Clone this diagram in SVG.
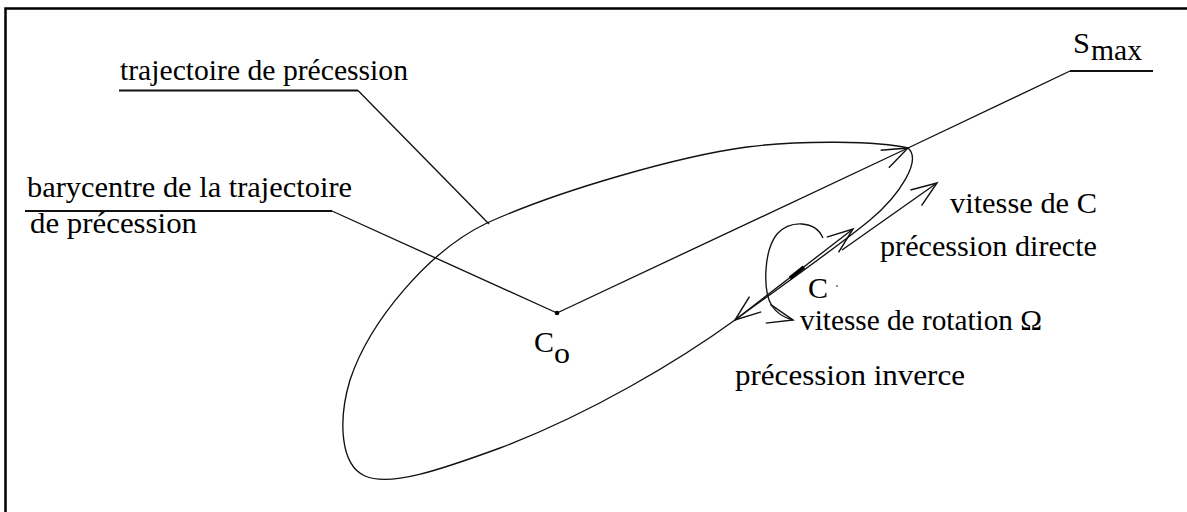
<svg xmlns="http://www.w3.org/2000/svg" width="1187" height="512" viewBox="0 0 1187 512">
<style>
  text { font-family: "Liberation Serif", "Times New Roman", serif; font-size: 29.5px; fill: #000; }
  .sub { font-size: 29px; }
  .ln { fill: none; stroke: #111; stroke-width: 1.35; }
  .ul { fill: none; stroke: #111; stroke-width: 1.9; }
  .arr { fill: none; stroke: #111; stroke-width: 1.35; }
</style>
<defs>
  <marker id="open" markerUnits="userSpaceOnUse" markerWidth="30" markerHeight="30" refX="0" refY="0" viewBox="-26 -13 28 26" orient="auto-start-reverse" overflow="visible">
    <path d="M-24,-9 L0,0 L-24,9" fill="none" stroke="#111" stroke-width="1.35"/>
  </marker>
</defs>
<rect width="1187" height="512" fill="#fff"/>
<path d="M5.5,512 V8.5 H1187" fill="none" stroke="#000" stroke-width="2.5"/>

<g id="trajectory">
  <path class="ln" d="M908,148 C880,141 800,140 747,147 C680,156 560,190 487,223 C430,250 370,320 350,380 C338,420 340,465 365,476 C390,487 440,470 500,448 C590,414 680,360 735,320 C790,280 840,245 870,220 C900,195 922,160 908,148 Z"/>
</g>

<g id="connectors">
  <polyline class="ul" points="119,90.5 358,90.5"/>
  <polyline class="ln" points="358,90.5 489,224"/>
  <polyline class="ul" points="25,211 332,211"/>
  <polyline class="ln" points="332,211 557,313"/>
  <polyline class="ul" points="1070,71 1153,71"/>
  <polyline class="ln" points="1070,71 908,148"/>
  <line class="arr" x1="557" y1="313" x2="908" y2="148" marker-end="url(#open)"/>
  <line class="arr" x1="735" y1="320" x2="853" y2="229" marker-start="url(#open)" marker-end="url(#open)"/>
  <line class="arr" x1="842" y1="250" x2="937" y2="183" marker-end="url(#open)"/>
  <path class="arr" d="M823,238 C815,220 790,220 777,234 C763,252 763,292 772,306 C778,315 785,318 793,320" marker-end="url(#open)"/>
</g>

<g id="label-trajectoire">
  <text x="120" y="80" textLength="288" lengthAdjust="spacingAndGlyphs">trajectoire de précession</text>
</g>
<g id="label-barycentre">
  <text x="27" y="197" textLength="325" lengthAdjust="spacingAndGlyphs">barycentre de la trajectoire</text>
  <text x="30" y="233" textLength="167" lengthAdjust="spacingAndGlyphs">de précession</text>
</g>
<g id="node-Smax">
  <text x="1073" y="53" textLength="17" lengthAdjust="spacingAndGlyphs">S</text>
  <text class="sub" x="1091" y="60" textLength="51" lengthAdjust="spacingAndGlyphs">max</text>
</g>
<g id="node-Co">
  <circle cx="557" cy="313" r="2.3" fill="#000"/>
  <text x="534" y="352" textLength="20" lengthAdjust="spacingAndGlyphs">C</text>
  <text class="sub" x="554" y="363" textLength="16" lengthAdjust="spacingAndGlyphs">o</text>
</g>
<g id="node-C">
  <line x1="790" y1="278" x2="804" y2="267" stroke="#000" stroke-width="3.5"/>
  <text x="808" y="298" textLength="20" lengthAdjust="spacingAndGlyphs">C</text>
  <circle cx="837" cy="286" r="0.8" fill="#000"/>
</g>
<g id="label-vitesseC">
  <text x="950" y="213" textLength="147" lengthAdjust="spacingAndGlyphs">vitesse de C</text>
  <text x="880" y="256" textLength="217" lengthAdjust="spacingAndGlyphs">précession directe</text>
</g>
<g id="label-rotation">
  <text x="800" y="330" textLength="242" lengthAdjust="spacingAndGlyphs">vitesse de rotation Ω</text>
</g>
<g id="label-inverse">
  <text x="735" y="385" textLength="230" lengthAdjust="spacingAndGlyphs">précession inverce</text>
</g>
</svg>
